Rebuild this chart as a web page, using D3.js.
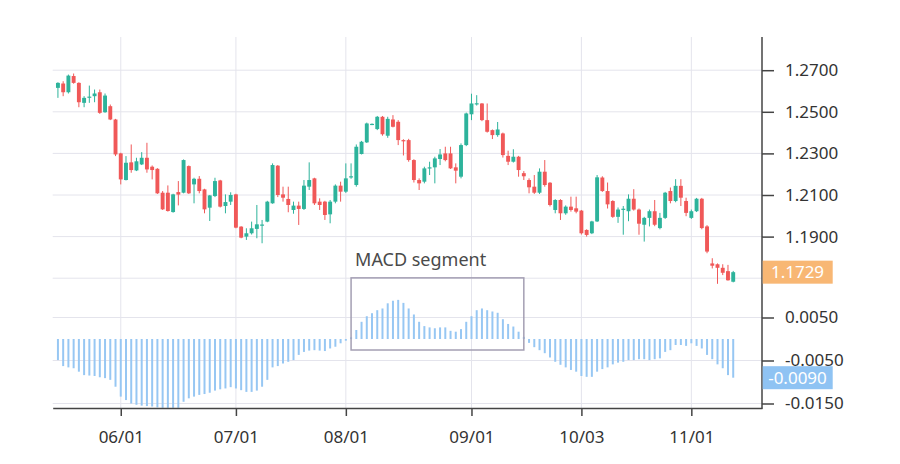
<!DOCTYPE html>
<html><head><meta charset="utf-8">
<script src="https://cdn.jsdelivr.net/npm/d3@7"></script>
<style>
body{margin:0;background:#fff}
svg{display:block}
text{font-family:"Noto Sans",Lato,sans-serif}
</style>
</head><body>
<svg id="c" width="900" height="464"></svg>
<script>
const open=[1.2615,1.2636,1.2594,1.2672,1.2639,1.2543,1.2570,1.2575,1.2594,1.2498,
1.2527,1.2463,1.2300,1.2172,1.2257,1.2218,1.2247,1.2279,1.2236,1.2226,
1.2111,1.2111,1.2018,1.2114,1.2111,1.2239,1.2151,1.2178,1.2127,1.2039,
1.2095,1.2170,1.2047,1.2068,1.2103,1.1948,1.1900,1.1916,1.1937,1.1953,
1.1972,1.2060,1.2241,1.2103,1.2081,1.2028,1.2049,1.2033,1.2140,1.2180,
1.2068,1.2068,1.2007,1.2068,1.2145,1.2116,1.2186,1.2148,1.2297,1.2353,
1.2440,1.2417,1.2476,1.2385,1.2463,1.2452,1.2364,1.2364,1.2268,1.2172,
1.2164,1.2230,1.2233,1.2273,1.2300,1.2300,1.2233,1.2188,1.2340,1.2488,
1.2538,1.2540,1.2460,1.2412,1.2388,1.2396,1.2288,1.2260,1.2284,1.2205,
1.2172,1.2140,1.2111,1.2212,1.2159,1.2028,1.2076,1.2012,1.2044,1.2036,
1.2025,1.1932,1.1916,1.1973,1.2184,1.2119,1.2071,1.1995,1.2030,1.2022,
1.2082,1.2030,1.1957,1.1990,1.2022,1.1941,1.1990,1.2119,1.2071,1.2144,
1.2071,1.1990,1.2022,1.2082,1.1949,1.1771,1.1767,1.1750,1.1734,1.1683];
const high=[1.2642,1.2647,1.2679,1.2684,1.2642,1.2575,1.2626,1.2607,1.2607,1.2588,
1.2535,1.2466,1.2303,1.2287,1.2343,1.2279,1.2306,1.2351,1.2242,1.2229,
1.2119,1.2146,1.2106,1.2167,1.2271,1.2242,1.2183,1.2191,1.2130,1.2100,
1.2183,1.2173,1.2103,1.2113,1.2106,1.1950,1.1940,1.1972,1.2052,1.1980,
1.2072,1.2252,1.2244,1.2140,1.2140,1.2068,1.2068,1.2172,1.2257,1.2183,
1.2084,1.2072,1.2076,1.2151,1.2164,1.2252,1.2252,1.2343,1.2360,1.2448,
1.2444,1.2480,1.2480,1.2476,1.2484,1.2460,1.2368,1.2370,1.2272,1.2180,
1.2236,1.2260,1.2284,1.2321,1.2332,1.2332,1.2252,1.2348,1.2496,1.2587,
1.2580,1.2542,1.2540,1.2415,1.2451,1.2400,1.2313,1.2320,1.2288,1.2215,
1.2180,1.2196,1.2228,1.2268,1.2162,1.2080,1.2080,1.2050,1.2092,1.2092,
1.2028,1.1935,1.1976,1.2196,1.2190,1.2160,1.2075,1.2040,1.2047,1.2103,
1.2128,1.2035,1.1995,1.2030,1.2076,1.2014,1.2115,1.2136,1.2176,1.2176,
1.2087,1.2030,1.2086,1.2086,1.1955,1.1796,1.1771,1.1767,1.1764,1.1735];
const low=[1.2567,1.2575,1.2588,1.2635,1.2522,1.2522,1.2543,1.2546,1.2490,1.2495,
1.2460,1.2287,1.2151,1.2170,1.2207,1.2215,1.2244,1.2207,1.2175,1.2105,
1.2028,1.2020,1.2015,1.2050,1.2108,1.2105,1.2060,1.2108,1.2012,1.1975,
1.2090,1.2040,1.2012,1.2052,1.1940,1.1892,1.1884,1.1910,1.1892,1.1868,
1.1969,1.2058,1.2090,1.2068,1.2017,1.2010,1.1956,1.2028,1.2124,1.2052,
1.2028,1.1980,1.1964,1.2060,1.2068,1.2110,1.2178,1.2140,1.2295,1.2350,
1.2436,1.2412,1.2385,1.2375,1.2425,1.2340,1.2290,1.2260,1.2160,1.2124,
1.2156,1.2196,1.2156,1.2244,1.2262,1.2225,1.2156,1.2180,1.2335,1.2460,
1.2530,1.2455,1.2400,1.2369,1.2380,1.2280,1.2244,1.2256,1.2188,1.2172,
1.2108,1.2105,1.2105,1.2140,1.2045,1.2012,1.1980,1.2005,1.2020,1.2012,
1.1910,1.1900,1.1912,1.1970,1.2115,1.2035,1.1990,1.1966,1.1909,1.1974,
1.2025,1.1909,1.1876,1.1949,1.1950,1.1935,1.1985,1.2060,1.2065,1.2047,
1.1998,1.1985,1.2018,1.1935,1.1820,1.1747,1.1673,1.1715,1.1688,1.1680];
const close=[1.2639,1.2594,1.2674,1.2639,1.2546,1.2567,1.2573,1.2588,1.2495,1.2578,
1.2463,1.2295,1.2175,1.2255,1.2220,1.2262,1.2279,1.2223,1.2220,1.2108,
1.2031,1.2023,1.2103,1.2102,1.2268,1.2108,1.2178,1.2119,1.2031,1.2098,
1.2167,1.2044,1.2066,1.2100,1.1943,1.1895,1.1916,1.1940,1.1959,1.1958,
1.2068,1.2244,1.2100,1.2087,1.2052,1.2049,1.2033,1.2145,1.2172,1.2060,
1.2052,1.2004,1.2068,1.2145,1.2116,1.2180,1.2190,1.2332,1.2356,1.2444,
1.2442,1.2476,1.2392,1.2466,1.2428,1.2364,1.2358,1.2268,1.2172,1.2156,
1.2228,1.2233,1.2276,1.2295,1.2268,1.2228,1.2217,1.2340,1.2492,1.2540,
1.2541,1.2460,1.2404,1.2388,1.2415,1.2292,1.2260,1.2284,1.2220,1.2190,
1.2137,1.2111,1.2212,1.2148,1.2052,1.2076,1.2012,1.2044,1.2028,1.2020,
1.1916,1.1908,1.1973,1.2185,1.2119,1.2055,1.1995,1.2030,1.2034,1.2082,
1.2030,1.1962,1.1990,1.2022,1.1957,1.1990,1.2111,1.2071,1.2144,1.2087,
1.2014,1.2022,1.2082,1.1941,1.1828,1.1760,1.1750,1.1726,1.1690,1.1729];
const macd=[-0.0049,-0.0063,-0.0066,-0.0068,-0.0076,-0.0084,-0.0085,-0.0086,-0.0089,-0.0091,
-0.0095,-0.0111,-0.0134,-0.0142,-0.0150,-0.0153,-0.0155,-0.0156,-0.0157,-0.0159,
-0.0160,-0.0160,-0.0160,-0.0160,-0.0146,-0.0138,-0.0134,-0.0130,-0.0128,-0.0125,
-0.0120,-0.0117,-0.0115,-0.0112,-0.0115,-0.0119,-0.0123,-0.0123,-0.0120,-0.0111,
-0.0095,-0.0066,-0.0063,-0.0057,-0.0053,-0.0049,-0.0037,-0.0030,-0.0027,-0.0026,
-0.0027,-0.0028,-0.0022,-0.0018,-0.0010,-0.0004,
0.0004,0.0021,0.0040,0.0053,0.0060,0.0067,0.0071,0.0083,0.0089,0.0091,
0.0084,0.0071,0.0057,0.0040,0.0030,0.0027,0.0025,0.0027,0.0027,0.0019,
0.0017,0.0023,0.0040,0.0053,0.0067,0.0071,0.0067,0.0064,0.0061,0.0046,
0.0035,0.0029,0.0017,0.0005,
-0.0009,-0.0019,-0.0026,-0.0033,-0.0043,-0.0053,-0.0060,-0.0066,-0.0072,-0.0076,
-0.0086,-0.0088,-0.0088,-0.0076,-0.0070,-0.0066,-0.0059,-0.0055,-0.0053,-0.0049,
-0.0049,-0.0047,-0.0047,-0.0049,-0.0047,-0.0045,-0.0030,-0.0026,-0.0014,-0.0014,
-0.0016,-0.0010,-0.0016,-0.0022,-0.0037,-0.0047,-0.0059,-0.0068,-0.0084,-0.0090];
const xTickLabels=['06/01','07/01','08/01','09/01','10/03','11/01'];
const xTickIndex=[12,34,55,79,100,121];
const priceTicks=[1.19,1.21,1.23,1.25,1.27];
const macdTicks=[0.005,-0.005,-0.015];
const segStart=56, segEnd=89, segLabel='MACD segment';

const FONT='"Noto Sans",Lato,sans-serif';
const svg=d3.select('#c');
const L=52.7,R=762,T=37,B=408;
const x=d3.scaleLinear().domain([-1,134.5]).range([L,R]);
const yP=d3.scaleLinear().domain([1.17,1.27]).range([278.2,70.2]);
const yM=d3.scaleLinear().domain([-0.015,0.005]).range([403.5,317.5]);
const UP='#2db39b', DOWN='#f05858', GRID='#e4e4ec';

// grid
const g=svg.append('g');
const hLines=[...priceTicks.map(yP),yP(1.17),...macdTicks.map(yM)];
g.selectAll('line.h').data(hLines).join('line')
 .attr('x1',L).attr('x2',R).attr('y1',d=>d).attr('y2',d=>d)
 .attr('stroke',GRID).attr('stroke-width',1);
g.selectAll('line.v').data(xTickIndex).join('line')
 .attr('x1',d=>x(d)).attr('x2',d=>x(d)).attr('y1',T).attr('y2',B)
 .attr('stroke',GRID).attr('stroke-width',1);

// MACD bars
const idx=d3.range(close.length);
svg.append('g').selectAll('line').data(idx).join('line')
 .attr('x1',i=>x(i)).attr('x2',i=>x(i))
 .attr('y1',yM(0)).attr('y2',i=>yM(macd[i]))
 .attr('stroke','#97c7f3').attr('stroke-width',2);

// candles
const cg=svg.append('g');
const bw=3.9;
cg.selectAll('line').data(idx).join('line')
 .attr('x1',i=>x(i)).attr('x2',i=>x(i))
 .attr('y1',i=>yP(high[i])).attr('y2',i=>yP(low[i]))
 .attr('stroke',i=>close[i]>=open[i]?UP:DOWN).attr('stroke-width',1);
cg.selectAll('rect').data(idx).join('rect')
 .attr('x',i=>x(i)-bw/2).attr('width',bw)
 .attr('y',i=>Math.min(yP(open[i]),yP(close[i])))
 .attr('height',i=>Math.max(1.2,Math.abs(yP(open[i])-yP(close[i]))))
 .attr('fill',i=>close[i]>=open[i]?UP:DOWN);

// segment box
const posMax=d3.max(macd.slice(segStart,segEnd+1));
const bx0=x(segStart), bx1=x(segEnd);
const by0=yM(posMax)-22, by1=yM(0)+11;
svg.append('rect').attr('x',bx0).attr('y',by0).attr('width',bx1-bx0).attr('height',by1-by0)
 .attr('fill','none').attr('stroke','#a49fb3').attr('stroke-width',1.5);
svg.append('text').attr('x',bx0+4).attr('y',by0-12).text(segLabel)
 .attr('font-size',18).attr('fill','#4a4a4a').attr('font-family',FONT);

// axes
const fmt=d=>(+d).toFixed(4);
const ax1=svg.append('g').attr('transform',`translate(${R},0)`)
 .call(d3.axisRight(yP).tickValues(priceTicks).tickFormat(fmt).tickSize(12).tickPadding(11));
const ax2=svg.append('g').attr('transform',`translate(${R},0)`)
 .call(d3.axisRight(yM).tickValues(macdTicks).tickFormat(fmt).tickSize(12).tickPadding(11));
[ax1,ax2].forEach(a=>{
  a.select('.domain').remove();
  a.selectAll('line').attr('stroke','#444').attr('stroke-width',1.5);
  a.selectAll('text').attr('font-size',17).attr('fill','#333').attr('font-family',FONT);
});
svg.append('line').attr('x1',R).attr('x2',R).attr('y1',T).attr('y2',B+0.75)
 .attr('stroke','#444').attr('stroke-width',1.5);

const axb=svg.append('g').attr('transform',`translate(0,${B})`)
 .call(d3.axisBottom(x).tickValues(xTickIndex).tickFormat((d,i)=>xTickLabels[i]).tickSize(8).tickSizeOuter(0).tickPadding(15));
axb.select('.domain').attr('stroke','#444').attr('stroke-width',1.5);
axb.selectAll('line').attr('stroke','#444').attr('stroke-width',1.5);
axb.selectAll('text').attr('font-size',17).attr('fill','#333').attr('font-family',FONT);

// badges
function badge(yv,label,color){
  const bg=svg.append('g').attr('transform',`translate(${R},${yv})`);
  bg.append('rect').attr('x',0.7).attr('y',-11.5).attr('width',70).attr('height',23).attr('fill',color);
  bg.append('text').attr('x',35.5).attr('y',6).attr('text-anchor','middle')
    .attr('font-size',17).attr('fill','#fff').attr('font-family',FONT).text(label);
}
badge(yP(close[close.length-1]),fmt(close[close.length-1]),'#f8b774');
badge(yM(macd[macd.length-1]),fmt(macd[macd.length-1]),'#8fc3f3');
</script>
</body></html>
